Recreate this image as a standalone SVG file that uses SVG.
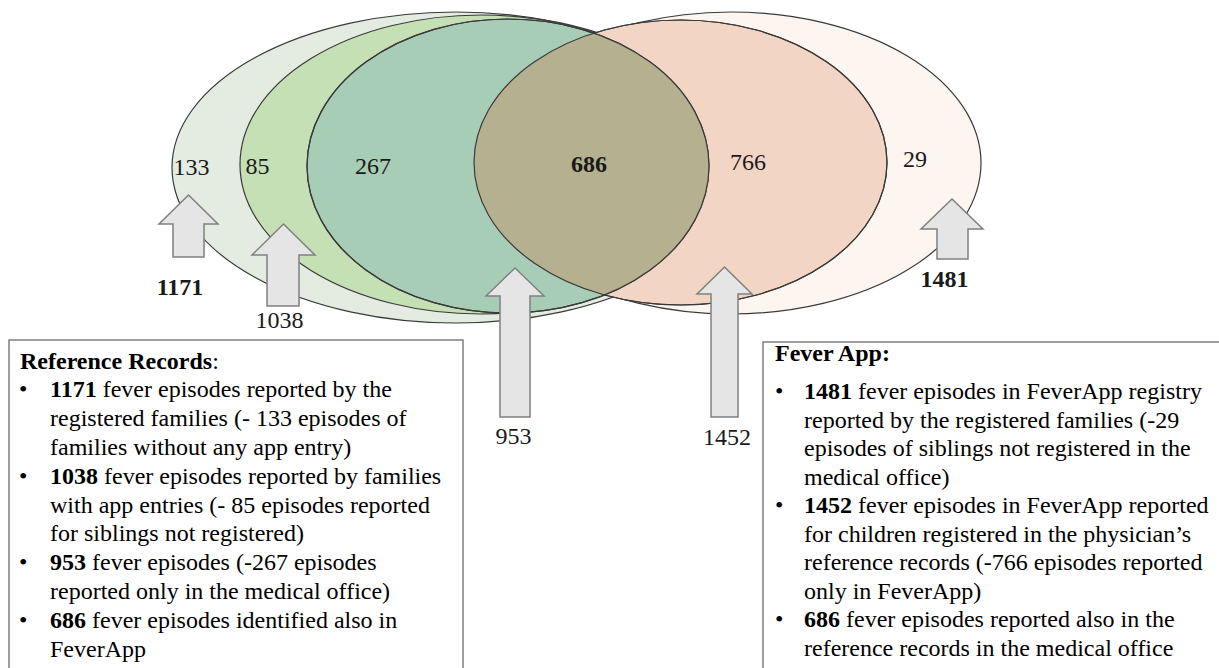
<svg xmlns="http://www.w3.org/2000/svg" width="1219" height="668" viewBox="0 0 1219 668" font-family="'Liberation Serif', 'Times New Roman', serif">
<style>
  .t{font-family:"Liberation Serif","Times New Roman",serif;font-size:24px;fill:#000}
  .b{font-weight:bold}
  .num{font-family:"Liberation Serif","Times New Roman",serif;font-size:24px;fill:#1a1a1a;text-anchor:middle}
  .ell{stroke:#3a3a3a;stroke-width:1.2}
  .arrow{fill:#e5e5e5;stroke:#808080;stroke-width:1.5;stroke-linejoin:miter}
  .box{fill:#fff;stroke:#7f7f7f;stroke-width:1.5}
</style>
<defs>
  <clipPath id="clipOrange"><ellipse cx="680.5" cy="162.5" rx="206.5" ry="142.5"/></clipPath>
</defs>
<rect width="1219" height="668" fill="#fff"/>

<g id="set-1171"><ellipse class="ell" cx="456" cy="167.5" rx="284" ry="155.5" fill="#e4ebe1" stroke="#6f6f6f"/></g>
<g id="set-1481"><ellipse class="ell" cx="731" cy="163" rx="250" ry="151" fill="#fdf5f0" stroke="#6f6f6f"/></g>
<g id="set-1038"><ellipse class="ell" cx="481" cy="164.5" rx="241" ry="149.5" fill="#c5e0b4"/></g>
<g id="set-1452"><ellipse class="ell" cx="680.5" cy="162.5" rx="206.5" ry="142.5" fill="#f2d5c4"/></g>
<g id="set-953"><ellipse class="ell" cx="508" cy="166" rx="201" ry="147" fill="#a8cdb6"/></g>
<g id="set-686">
  <ellipse cx="508" cy="166" rx="201" ry="147" fill="#b5b08f" clip-path="url(#clipOrange)"/>
  <ellipse class="ell" cx="680.5" cy="162.5" rx="206.5" ry="142.5" fill="none" stroke="#4a3a30"/>
  <ellipse class="ell" cx="508" cy="166" rx="201" ry="147" fill="none" stroke="#3a3a30"/>
</g>

<g id="region-labels">
  <text class="num" x="191.5" y="175">133</text>
  <text class="num" x="257.5" y="174">85</text>
  <text class="num" x="373" y="174">267</text>
  <text class="num b" x="589" y="171.5">686</text>
  <text class="num" x="748" y="170">766</text>
  <text class="num" x="915" y="167">29</text>
</g>

<g id="connectors">
  <polygon class="arrow" points="188.5,195 218,224 204,224 204,257 173,257 173,224 159,224"/>
  <polygon class="arrow" points="283.5,224 315,255 299,255 299,306 267,306 267,255 252,255"/>
  <polygon class="arrow" points="515,268 544,296 530,296 530,417 500,417 500,296 486,296"/>
  <polygon class="arrow" points="724.5,267 752,294 738,294 738,417 711,417 711,294 697,294"/>
  <polygon class="arrow" points="952,199 983,229 968,229 968,259 937,259 937,229 921,229"/>
</g>

<g id="arrow-labels">
  <text class="num b" x="180" y="295">1171</text>
  <text class="num" x="279.5" y="328">1038</text>
  <text class="num" x="513.5" y="444">953</text>
  <text class="num" x="727" y="445">1452</text>
  <text class="num b" x="944.5" y="287">1481</text>
</g>

<g id="box-reference">
  <rect class="box" x="9" y="340" width="454" height="340"/>
  <text class="t" x="20" y="368.5"><tspan class="b">Reference Records</tspan>:</text>
  <text class="t" x="19" y="397.3">•</text>
  <text class="t" x="50" y="397.3"><tspan class="b">1171</tspan> fever episodes reported by the</text>
  <text class="t" x="50" y="426.1">registered families (- 133 episodes of</text>
  <text class="t" x="50" y="454.9">families without any app entry)</text>
  <text class="t" x="19" y="483.7">•</text>
  <text class="t" x="50" y="483.7"><tspan class="b">1038</tspan> fever episodes reported by families</text>
  <text class="t" x="50" y="512.5">with app entries (- 85 episodes reported</text>
  <text class="t" x="50" y="541.3">for siblings not registered)</text>
  <text class="t" x="19" y="570.1">•</text>
  <text class="t" x="50" y="570.1"><tspan class="b">953</tspan> fever episodes (-267 episodes</text>
  <text class="t" x="50" y="598.9">reported only in the medical office)</text>
  <text class="t" x="19" y="627.7">•</text>
  <text class="t" x="50" y="627.7"><tspan class="b">686</tspan> fever episodes identified also in</text>
  <text class="t" x="50" y="656.5">FeverApp</text>
</g>

<g id="box-feverapp">
  <rect class="box" x="763" y="342" width="470" height="340"/>
  <text class="t b" x="775" y="361">Fever App:</text>
  <text class="t" x="775" y="399">•</text>
  <text class="t" x="804" y="399"><tspan class="b">1481</tspan> fever episodes in FeverApp registry</text>
  <text class="t" x="804" y="427.5">reported by the registered families (-29</text>
  <text class="t" x="804" y="456">episodes of siblings not registered in the</text>
  <text class="t" x="804" y="484.5">medical office)</text>
  <text class="t" x="775" y="513">•</text>
  <text class="t" x="804" y="513"><tspan class="b">1452</tspan> fever episodes in FeverApp reported</text>
  <text class="t" x="804" y="541.5">for children registered in the physician’s</text>
  <text class="t" x="804" y="570">reference records (-766 episodes reported</text>
  <text class="t" x="804" y="598.5">only in FeverApp)</text>
  <text class="t" x="775" y="627">•</text>
  <text class="t" x="804" y="627"><tspan class="b">686</tspan> fever episodes reported also in the</text>
  <text class="t" x="804" y="655.5">reference records in the medical office</text>
</g>
</svg>
